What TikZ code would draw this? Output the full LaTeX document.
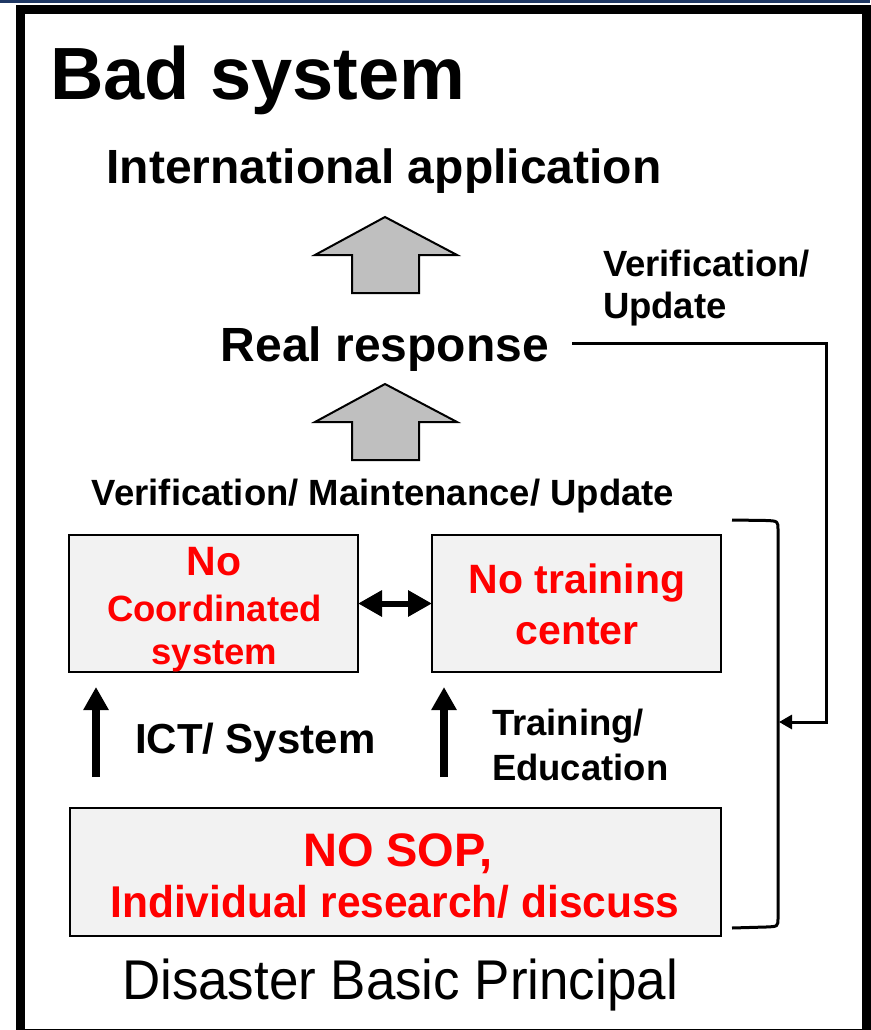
\documentclass[tikz,border=0pt]{standalone}
\usepackage{fontspec}
\setmainfont{Liberation Sans}
\usetikzlibrary{arrows.meta}
\definecolor{boxfill}{HTML}{F2F2F2}
\definecolor{blockgrey}{HTML}{BFBFBF}
\definecolor{navystrip}{HTML}{1F3864}
\definecolor{txtred}{HTML}{FF0000}
\newcommand{\fsz}[1]{\fontsize{#1}{#1}\selectfont}
\begin{document}
\begin{tikzpicture}[x=1pt,y=-1pt,
  every node/.style={inner sep=0pt, outer sep=0pt},
  lbl/.style={anchor=base, text=black},
  lbll/.style={anchor=base west, text=black},
  redtxt/.style={anchor=base, text=txtred},
  boxst/.style={draw=black, line width=2.5pt, fill=boxfill},
  blockarrow/.style={draw=black, line width=2pt, fill=blockgrey, line join=miter},
  dblarrow/.style={line width=6pt, {Triangle[length=24pt,width=25pt]}-{Triangle[length=24pt,width=25pt]}},
  uparrow/.style={line width=8pt, -{Triangle[length=23pt,width=24pt]}},
  feedback/.style={line width=3pt, -{Triangle[length=13pt,width=14pt]}},
  bracketline/.style={line width=3pt, line join=round}
]
\useasboundingbox (0,0) rectangle (870,1030);
\fill[white] (0,0) rectangle (870,1030);
% frame
\fill[navystrip] (0,0) rectangle (870,3.5);
\draw[line width=9pt] (20,10) rectangle (866.5,1033);

% headings
\node[lbll, font=\fsz{74}\bfseries] (title) at (50,100) {Bad system};
\node[lbl, font=\fsz{48}\bfseries] (intl) at (384,183) {International application};
\node[lbl, font=\fsz{48}\bfseries] (real) at (385,361) {Real response};
\node[lbll, font=\fsz{36.5}\bfseries] (vu1) at (603,276) {Verification/};
\node[lbll, font=\fsz{36.5}\bfseries] (vu2) at (603,318) {Update};
\node[lbl, font=\fsz{36.5}\bfseries] (vmu) at (383,505) {Verification/ Maintenance/ Update};

% block arrows
\draw[blockarrow] (385,217) -- (457,255) -- (419,255) -- (419,293) -- (352,293) -- (352,255) -- (315,255) -- cycle;
\draw[blockarrow] (385,384) -- (457,422) -- (419,422) -- (419,460) -- (352,460) -- (352,422) -- (315,422) -- cycle;

% boxes
\node[boxst, minimum width=289pt, minimum height=137pt] (lbox) at (213.5,603.5) {};
\node[boxst, minimum width=289pt, minimum height=137pt] (rbox) at (576.5,603.5) {};
\node[boxst, minimum width=651pt, minimum height=128pt] (bbox) at (395.5,872) {};

% box texts
\node[redtxt, font=\fsz{41}\bfseries] (l1) at (214,575) {No};
\node[redtxt, font=\fsz{36.5}\bfseries] (l2) at (214.5,621) {Coordinated};
\node[redtxt, font=\fsz{36.5}\bfseries] (l3) at (214.5,664) {system};
\node[redtxt, font=\fsz{41}\bfseries] (r1) at (577,593) {No training};
\node[redtxt, font=\fsz{41}\bfseries] (r2) at (577,644) {center};
\node[redtxt, font=\fsz{47}\bfseries] (b1) at (398,866) {NO SOP,};
\node[redtxt, font=\fsz{44.5}\bfseries, xscale=0.955] (b2) at (395,917) {Individual research/ discuss};

% double arrow between boxes
\draw[dblarrow] (lbox.east) -- (rbox.west);

% up arrows
\coordinate (ua1s) at (96,777);
\coordinate (ua1e) at (96,687);
\coordinate (ua2s) at (444,777);
\coordinate (ua2e) at (444,687);
\draw[uparrow] (ua1s) -- (ua1e);
\draw[uparrow] (ua2s) -- (ua2e);
\node[lbll, font=\fsz{42}\bfseries] (ict) at (135,753) {ICT/ System};
\node[lbll, font=\fsz{36.5}\bfseries] (te1) at (492,735) {Training/};
\node[lbll, font=\fsz{36.5}\bfseries] (te2) at (492,780) {Education};

% bracket
\coordinate (brtop) at (732,520);
\coordinate (brbot) at (732,928);
\coordinate (brmid) at (779,722);
\draw[bracketline] (brtop) -- (766,520.5) .. controls (778,521) .. (778,530) -- (778,918) .. controls (778,926.5) .. (766,927) -- (brbot);

% feedback line
\coordinate (fbA) at (572,343);
\coordinate (fbB) at (826,343);
\draw[feedback] (fbA) -- (fbB) |- (brmid);

% footer
\node[lbl, font=\fsz{56}, xscale=0.945] (foot) at (400,999) {Disaster Basic Principal};
\end{tikzpicture}
\end{document}
